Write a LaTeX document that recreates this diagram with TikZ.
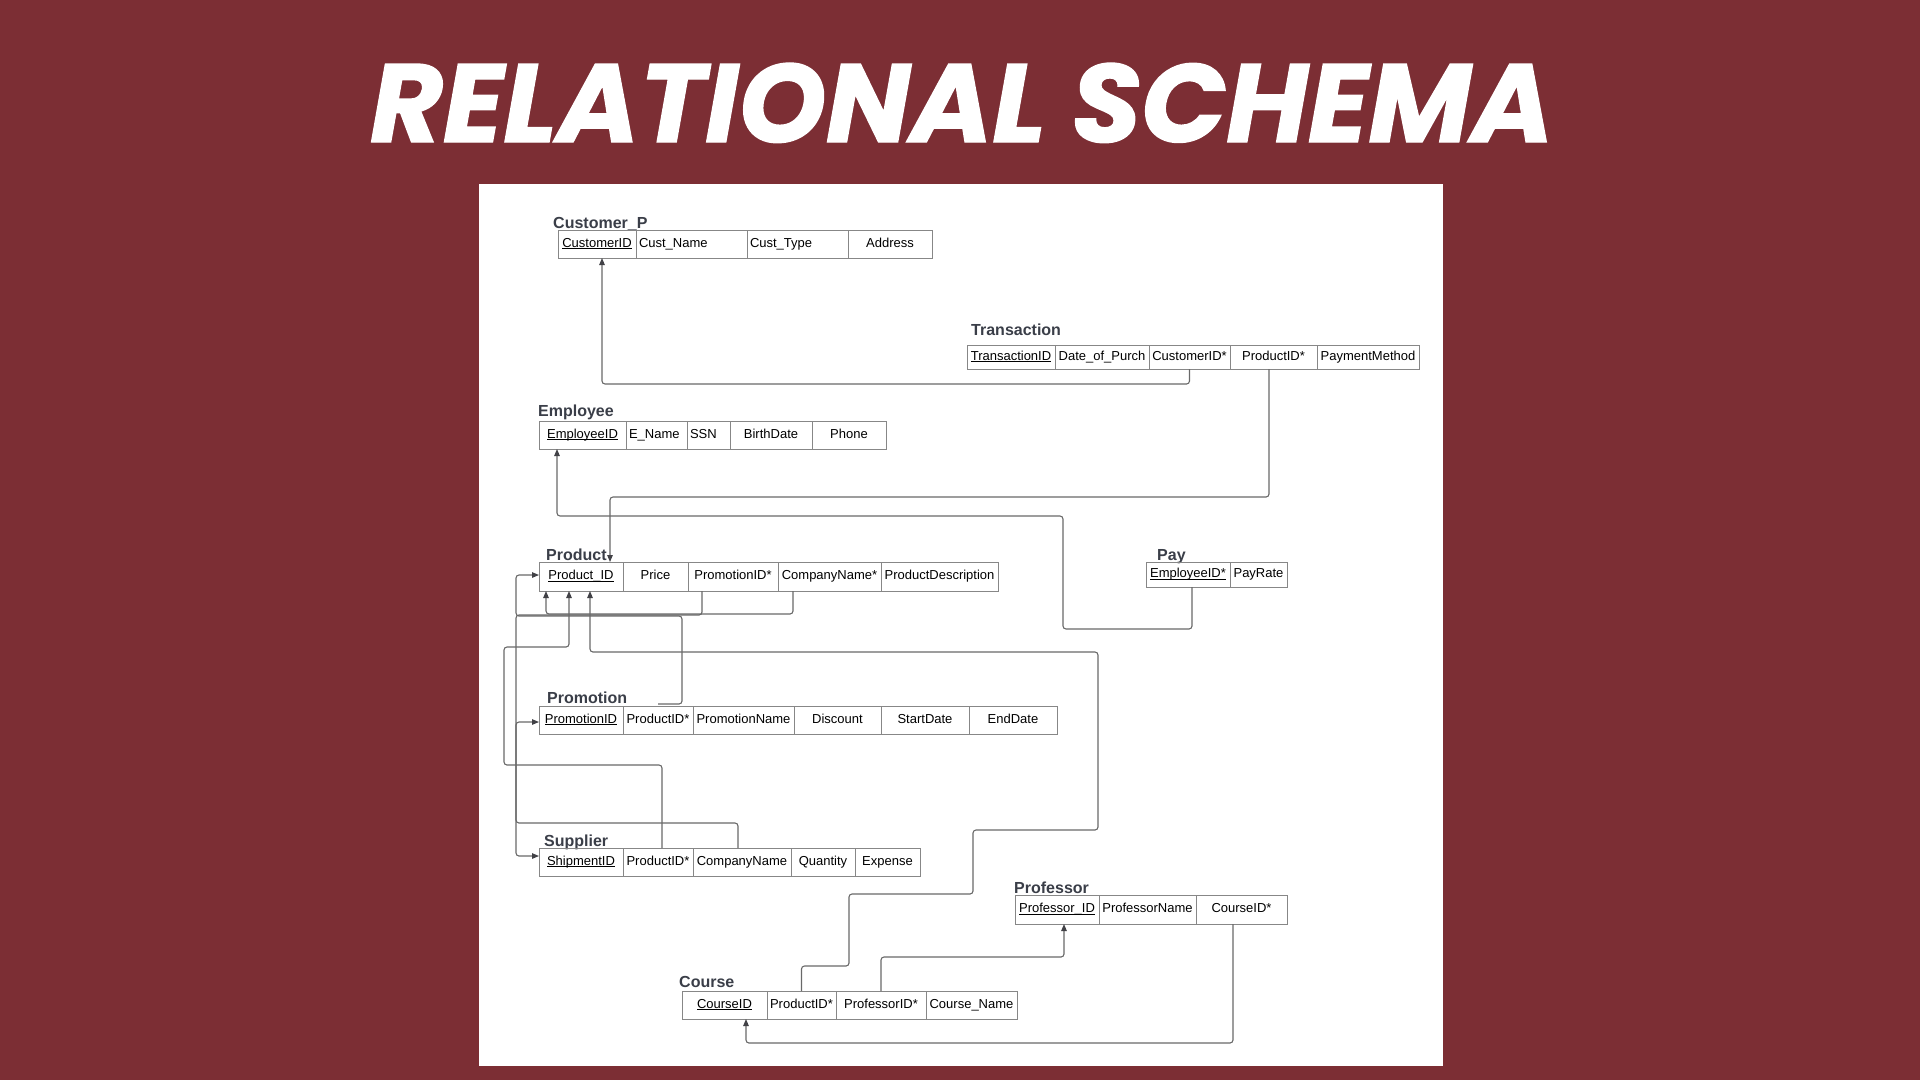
\documentclass[tikz,border=0pt]{standalone}
\usepackage{graphicx}
\usepackage{fontspec}
\setmainfont{Liberation Sans}
\newfontfamily\titlefont{Poppins}[BoldItalicFeatures={FakeBold=1.2}]
\usetikzlibrary{arrows.meta}
\definecolor{bgred}{RGB}{124,46,52}
\definecolor{lblc}{RGB}{58,62,72}
\definecolor{tblc}{RGB}{135,135,135}
\definecolor{conc}{RGB}{105,105,105}
\definecolor{arrc}{RGB}{65,65,70}
\newsavebox\ukbox
\newcommand\keyu[1]{\sbox\ukbox{#1}\rlap{\rule[-1.9pt]{\wd\ukbox}{0.75pt}}\usebox\ukbox}
\tikzset{
  cell/.style 2 args={draw=tblc, line width=0.9pt, minimum width=#1pt, minimum height=#2pt,
    inner xsep=2pt, inner ysep=0pt, text height=9.5pt, text depth=3pt, anchor=north west,
    font=\fontsize{13}{15}\selectfont, text=black, outer sep=0pt},
  lft/.style={align=left, text width=#1pt},
  lbl/.style={anchor=base west, inner sep=0pt, font=\fontsize{16}{18}\selectfont\bfseries, text=lblc},
  conn/.style={draw=conc, line width=1.1pt, rounded corners=3pt},
  arr/.style={-{Triangle[length=7pt,width=5.5pt,color=arrc]}},
}
\begin{document}
\begin{tikzpicture}[x=1pt,y=-1pt]
\useasboundingbox (0,0) rectangle (1920,1080);
\fill[bgred] (0,0) rectangle (1920,1080);
\fill[white] (479,184) rectangle (1443,1066);

\node[anchor=base, inner sep=0pt, text=white] (title) at (962,142)
  {\resizebox{1182pt}{79pt}{\titlefont\bfseries\itshape RELATIONAL SCHEMA}};

% Customer_P
\node[lbl] (lcust) at (553,228) {Customer\_P};
\node[cell={78}{28}] (cust1) at (558,230) {\keyu{CustomerID}};
\node[cell={111}{28}, lft=105] (cust2) at (636,230) {Cust\_Name};
\node[cell={101}{28}, lft=95] (cust3) at (747,230) {Cust\_Type};
\node[cell={84}{28}] (cust4) at (848,230) {Address};

% Transaction
\node[lbl] (ltr) at (971,335) {Transaction};
\node[cell={88}{24}] (tr1) at (967,345) {\keyu{TransactionID}};
\node[cell={94}{24}] (tr2) at (1055,345) {Date\_of\_Purch};
\node[cell={81}{24}] (tr3) at (1149,345) {CustomerID*};
\node[cell={87}{24}] (tr4) at (1230,345) {ProductID*};
\node[cell={102}{24}] (tr5) at (1317,345) {PaymentMethod};

% Employee
\node[lbl] (lemp) at (538,416) {Employee};
\node[cell={87}{28}] (emp1) at (539,421) {\keyu{EmployeeID}};
\node[cell={61}{28}, lft=55] (emp2) at (626,421) {E\_Name};
\node[cell={43}{28}, lft=37] (emp3) at (687,421) {SSN};
\node[cell={82}{28}] (emp4) at (730,421) {BirthDate};
\node[cell={74}{28}] (emp5) at (812,421) {Phone};

% Product
\node[lbl] (lprod) at (546,560) {Product};
\node[cell={84}{29}] (prod1) at (539,562) {\keyu{Product\_ID}};
\node[cell={65}{29}] (prod2) at (623,562) {Price};
\node[cell={90}{29}] (prod3) at (688,562) {PromotionID*};
\node[cell={103}{29}] (prod4) at (778,562) {CompanyName*};
\node[cell={117}{29}] (prod5) at (881,562) {ProductDescription};

% Pay
\node[lbl] (lpay) at (1157,560) {Pay};
\node[cell={84}{25}] (pay1) at (1146,562) {\keyu{EmployeeID*}};
\node[cell={57}{25}] (pay2) at (1230,562) {PayRate};

% Promotion
\node[lbl] (lpromo) at (547,703) {Promotion};
\node[cell={84}{28}] (promo1) at (539,706) {\keyu{PromotionID}};
\node[cell={70}{28}] (promo2) at (623,706) {ProductID*};
\node[cell={101}{28}] (promo3) at (693,706) {PromotionName};
\node[cell={87}{28}] (promo4) at (794,706) {Discount};
\node[cell={88}{28}] (promo5) at (881,706) {StartDate};
\node[cell={88}{28}] (promo6) at (969,706) {EndDate};

% Supplier
\node[lbl] (lsup) at (544,846) {Supplier};
\node[cell={84}{28}] (sup1) at (539,848) {\keyu{ShipmentID}};
\node[cell={70}{28}] (sup2) at (623,848) {ProductID*};
\node[cell={98}{28}] (sup3) at (693,848) {CompanyName};
\node[cell={64}{28}] (sup4) at (791,848) {Quantity};
\node[cell={65}{28}] (sup5) at (855,848) {Expense};

% Professor
\node[lbl] (lprof) at (1014,893) {Professor};
\node[cell={84}{29}] (prof1) at (1015,895) {\keyu{Professor\_ID}};
\node[cell={97}{29}] (prof2) at (1099,895) {ProfessorName};
\node[cell={91}{29}] (prof3) at (1196,895) {CourseID*};

% Course
\node[lbl] (lcrs) at (679,987) {Course};
\node[cell={85}{28}] (crs1) at (682,991) {\keyu{CourseID}};
\node[cell={69}{28}] (crs2) at (767,991) {ProductID*};
\node[cell={90}{28}] (crs3) at (836,991) {ProfessorID*};
\node[cell={91}{28}] (crs4) at (926,991) {Course\_Name};

% Connectors
\draw[conn,arr] (tr3.south) -- ++(0,15) -| ([xshift=5pt]cust1.south);
\draw[conn,arr] ([xshift=-4.5pt]tr4.south) -- ++(0,128) -| ([xshift=29pt]prod1.north);
\draw[conn,arr] ([xshift=4pt]pay1.south) -- ++(0,42) -| (1063,516) -| ([xshift=-25.5pt]emp1.south);
\draw[conn,arr] ([xshift=-36.5pt]prod4.south) -- ++(0,23) -| ([xshift=-35pt]prod1.south);
\draw[conn,arr] ([xshift=-31pt]prod3.south) -- ++(0,24) -| ([xshift=-23pt,yshift=6pt]sup1.west) -- ([yshift=6pt]sup1.west);
\draw[conn,arr] ([yshift=2pt]promo2.north) -- ++(24,0) |- (516,616) |- ([yshift=1.5pt]prod1.west);
\draw[conn,arr] ([xshift=-4pt]sup3.north) -- ++(0,-25) -| ([xshift=-23pt,yshift=-2pt]promo1.west) -- ([yshift=-2pt]promo1.west);
\draw[conn,arr] ([xshift=4pt]sup2.north) -- ++(0,-83) -| (504,647) -| ([xshift=-12pt]prod1.south);
\draw[conn,arr] (crs2.north) -- ++(0,-25) -| (849,894) -| (973,830) -| (1098,652) -| ([xshift=9pt]prod1.south);
\draw[conn,arr] (crs3.north) -- ++(0,-34) -| ([xshift=7pt]prof1.south);
\draw[conn,arr] ([xshift=-8.5pt]prof3.south) -- ++(0,119) -| ([xshift=21.5pt]crs1.south);
\end{tikzpicture}
\end{document}
